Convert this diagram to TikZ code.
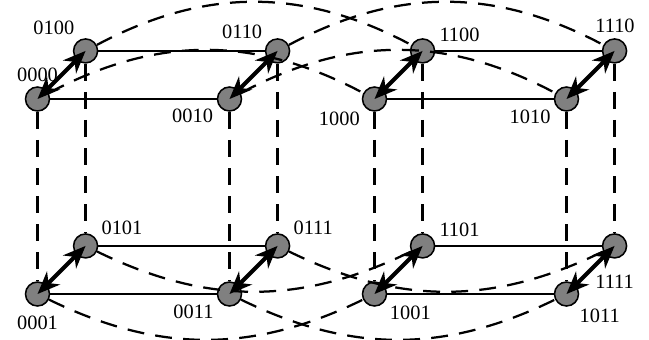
\documentclass[tikz,border=0pt]{standalone}
\usepackage{fontspec}
\setmainfont{Liberation Serif}
\usetikzlibrary{arrows.meta}

\begin{document}
\begin{tikzpicture}[node distance=4.8cm, auto, font=\fontsize{14.5}{17}\selectfont,
  vtx/.style={circle, draw, line width=1.1pt, fill=black!50, minimum size=0.6cm, inner sep=0pt},
  link/.style={line width=1.1pt},
  hopline/.style={line width=1.6pt, dash pattern=on 12pt off 8pt},
  pairarrow/.style={line width=2.8pt, {Stealth[length=16pt,width=13pt,inset=5pt]}-{Stealth[length=16pt,width=13pt,inset=5pt]}}]
\useasboundingbox (-0.9375,2.475) rectangle (15.2875,-6);
% upper row, first cube
\node (n0000) [vtx, label=above:0000] {};
\node (n0010) [vtx, right of=n0000, label=205:0010] {};
\node (n0100) [vtx, node distance=1.7cm, above right of=n0000, label=120:0100] {};
\node (n0110) [vtx, right of=n0100, label=145:0110] {};
% upper row, second cube
\node (n1000) [vtx, node distance=8.425cm, right of=n0000, label=220:1000] {};
\node (n1010) [vtx, right of=n1000, label=210:1010] {};
\node (n1100) [vtx, node distance=1.7cm, above right of=n1000, label=20:1100] {};
\node (n1110) [vtx, right of=n1100, label=88:1110] {};
% lower row
\node (n0001) [vtx, node distance=4.875cm, below of=n0000, label={[label distance=0.1cm]below:0001}] {};
\node (n0011) [vtx, node distance=4.875cm, below of=n0010, label=210:0011] {};
\node (n0101) [vtx, node distance=4.875cm, below of=n0100, label=30:0101] {};
\node (n0111) [vtx, node distance=4.875cm, below of=n0110, label=30:0111] {};
\node (n1001) [vtx, node distance=4.875cm, below of=n1000, label=-35:1001] {};
\node (n1011) [vtx, node distance=4.875cm, below of=n1010, label=-50:1011] {};
\node (n1101) [vtx, node distance=4.875cm, below of=n1100, label=20:1101] {};
\node (n1111) [vtx, node distance=4.875cm, below of=n1110, label={[label distance=0.28cm]below:1111}] {};

% solid edges
\draw[link] (n0000) -- (n0010) (n0100) -- (n0110) (n1000) -- (n1010) (n1100) -- (n1110);
\draw[link] (n0001) -- (n0011) (n0101) -- (n0111) (n1001) -- (n1011) (n1101) -- (n1111);

% vertical dashed edges
\draw[hopline] (n0000) -- (n0001) (n0100) -- (n0101) (n0010) -- (n0011) (n0110) -- (n0111);
\draw[hopline] (n1000) -- (n1001) (n1100) -- (n1101) (n1010) -- (n1011) (n1110) -- (n1111);

% long dashed arcs
\draw[hopline] (n0000) to[bend left=28] (n1000);
\draw[hopline] (n0100) to[bend left=28] (n1100);
\draw[hopline] (n0010) to[bend left=28] (n1010);
\draw[hopline] (n0110) to[bend left=28] (n1110);
\draw[hopline] (n0001) to[bend right=26] (n1001);
\draw[hopline] (n0101) to[bend right=26] (n1101);
\draw[hopline] (n0011) to[bend right=26] (n1011);
\draw[hopline] (n0111) to[bend right=26] (n1111);

% double arrows
\draw[pairarrow] (n0000.center) -- (n0100.center);
\draw[pairarrow] (n0010.center) -- (n0110.center);
\draw[pairarrow] (n1000.center) -- (n1100.center);
\draw[pairarrow] (n1010.center) -- (n1110.center);
\draw[pairarrow] (n0001.center) -- (n0101.center);
\draw[pairarrow] (n0011.center) -- (n0111.center);
\draw[pairarrow] (n1001.center) -- (n1101.center);
\draw[pairarrow] (n1011.center) -- (n1111.center);
\end{tikzpicture}
\end{document}
